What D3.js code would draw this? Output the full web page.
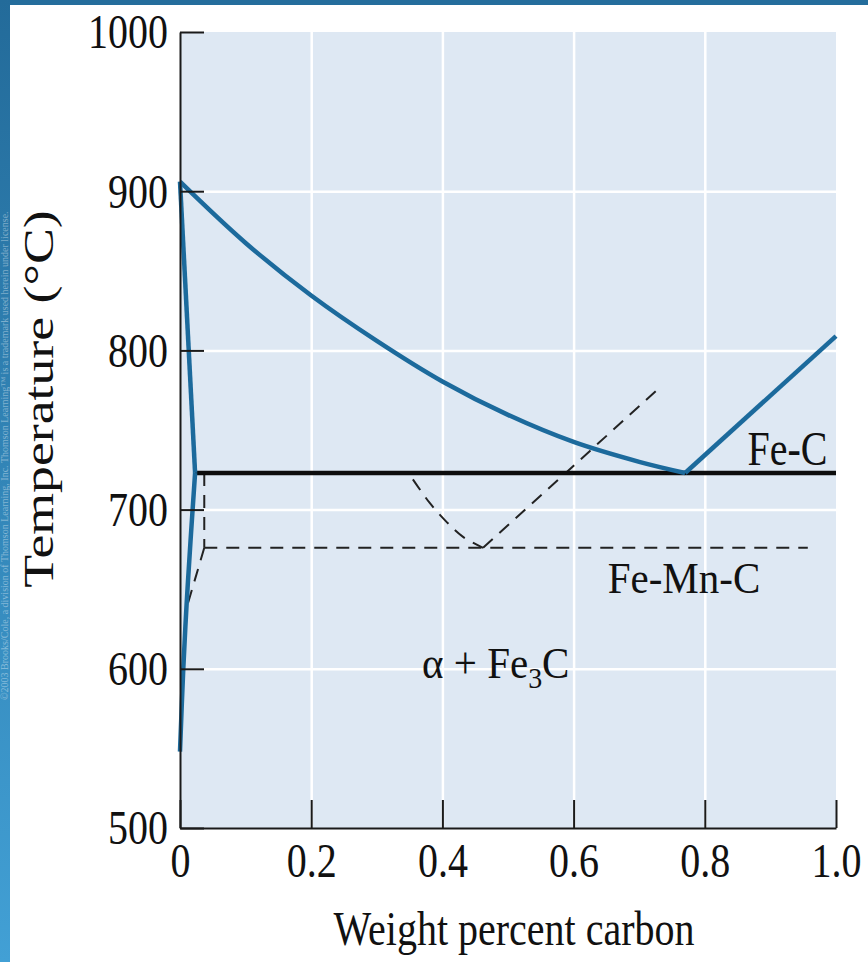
<!DOCTYPE html>
<html>
<head>
<meta charset="utf-8">
<script src="https://cdn.jsdelivr.net/npm/d3@7"></script>
<style>
  html, body { margin: 0; padding: 0; background: #fff; }
  svg { display: block; }
  text { font-family: "Liberation Serif", "Times New Roman", serif; fill: #111; }
</style>
</head>
<body>
<div id="chart"></div>
<script>
// tick values
var xTicks = [0, 0.2, 0.4, 0.6, 0.8, 1.0];
var yTicks = [500, 600, 700, 800, 900, 1000];

// Fe-C boundaries (wt% C, temperature C)
var feC_A3 = [[0, 906], [0.1, 867.5], [0.2, 834.5], [0.3, 806], [0.4, 780.5], [0.5, 759.5], [0.6, 742.5], [0.7, 730], [0.77, 723]];
var feC_Acm = [[0.77, 723], [1.0, 809]];
var feC_alphaTop = [[0, 906], [0.023, 723]];
var feC_alphaBottom = [[0.023, 723], [0.016, 680], [0.010, 640], [0.005, 600], [0, 548]];
var feC_eutectoid = [[0.023, 723], [1.0, 723]];

// Fe-Mn-C boundaries
var mn_A3 = [[0.355, 719], [0.381, 704], [0.407, 692], [0.431, 683], [0.462, 676]];
var mn_Acm = [[0.462, 676], [0.735, 778]];
var mn_eutectoid = [[0.037, 676], [0.957, 676]];
var mn_step = [[0.037, 723], [0.037, 676]];
var mn_alpha = [[0.037, 676], [0.012, 641]];

var W = 868, H = 962;
var margin = { top: 32, left: 180, right: 32, bottom: 134 };

var svg = d3.select("#chart").append("svg").attr("width", W).attr("height", H);

// page frame (blue bars on top and left)
var defs = svg.append("defs");
var grad = defs.append("linearGradient").attr("id", "sideGrad")
    .attr("x1", 0).attr("y1", 0).attr("x2", 0).attr("y2", 1);
grad.append("stop").attr("offset", "0%").attr("stop-color", "#236b9a");
grad.append("stop").attr("offset", "100%").attr("stop-color", "#42a0d5");
svg.append("rect").attr("x", 0).attr("y", 0).attr("width", W).attr("height", 5).attr("fill", "#246d9c");
svg.append("rect").attr("x", 0).attr("y", 0).attr("width", 10).attr("height", H).attr("fill", "url(#sideGrad)");
svg.append("text")
    .attr("transform", "translate(8,700) rotate(-90)")
    .style("font-size", "10px").style("fill", "rgba(255,255,255,0.4)")
    .text("\u00a92003 Brooks/Cole, a division of Thomson Learning, Inc.  Thomson Learning\u2122 is a trademark used herein under license.");

var x = d3.scaleLinear().domain([0, 1.0]).range([margin.left, W - margin.right]);
var y = d3.scaleLinear().domain([500, 1000]).range([H - margin.bottom, margin.top]);

// plot background
svg.append("rect")
    .attr("x", x(0)).attr("y", y(1000))
    .attr("width", x(1) - x(0)).attr("height", y(500) - y(1000))
    .attr("fill", "#dee8f3");

// white grid
svg.append("g")
    .attr("transform", "translate(0," + y(500) + ")")
    .call(d3.axisBottom(x).tickValues(xTicks.slice(1, -1)).tickSize(-(y(500) - y(1000))).tickFormat(""))
    .call(function (g) {
        g.select(".domain").remove();
        g.selectAll("line").attr("stroke", "#fff").attr("stroke-width", 2.5);
    });
svg.append("g")
    .attr("transform", "translate(" + x(0) + ",0)")
    .call(d3.axisLeft(y).tickValues(yTicks.slice(1, -1)).tickSize(-(x(1) - x(0))).tickFormat(""))
    .call(function (g) {
        g.select(".domain").remove();
        g.selectAll("line").attr("stroke", "#fff").attr("stroke-width", 2.5);
    });

var line = d3.line().x(function (d) { return x(d[0]); }).y(function (d) { return y(d[1]); });
var smooth = d3.line().curve(d3.curveCatmullRom.alpha(0.5)).x(function (d) { return x(d[0]); }).y(function (d) { return y(d[1]); });

function draw(data, gen, color, width, dash) {
    svg.append("path")
        .datum(data)
        .attr("d", gen)
        .attr("fill", "none")
        .attr("stroke", color)
        .attr("stroke-width", width)
        .attr("stroke-dasharray", dash || null);
}

// Fe-Mn-C (dashed)
var dash = "13,9";
draw(mn_eutectoid, line, "#222", 2, dash);
draw(mn_step, line, "#222", 2, dash);
draw(mn_alpha, line, "#222", 2, dash);
draw(mn_A3, smooth, "#222", 2, dash);
draw(mn_Acm, line, "#222", 2, dash);

// Fe-C
draw(feC_eutectoid, line, "#0d0d0d", 4.5);
draw(feC_A3, smooth, "#1c6a9c", 4.5);
draw(feC_Acm, line, "#1c6a9c", 4.5);
draw(feC_alphaTop, line, "#1c6a9c", 4.5);
draw(feC_alphaBottom, smooth, "#1c6a9c", 4.5);

// axes
svg.append("g")
    .attr("transform", "translate(" + x(0) + ",0)")
    .call(d3.axisLeft(y).tickValues(yTicks).tickSize(-24).tickSizeOuter(0).tickFormat(d3.format("d")))
    .call(function (g) {
        g.select(".domain").attr("stroke", "#1a1a1a").attr("stroke-width", 2);
        g.selectAll("line").attr("stroke", "#1a1a1a").attr("stroke-width", 2);
        g.selectAll("text")
            .attr("x", -12).attr("dy", "0.33em")
            .attr("transform", "scale(1,1.2)")
            .style("font-size", "40px").style("font-family", "Liberation Serif, serif").attr("fill", "#111");
    });
svg.append("g")
    .attr("transform", "translate(0," + y(500) + ")")
    .call(d3.axisBottom(x).tickValues(xTicks).tickSize(-28).tickSizeOuter(0)
        .tickFormat(function (d) { return d === 0 ? "0" : d3.format(".1f")(d); }))
    .call(function (g) {
        g.select(".domain").attr("stroke", "#1a1a1a").attr("stroke-width", 2);
        g.selectAll("line").attr("stroke", "#1a1a1a").attr("stroke-width", 2);
        g.selectAll("text")
            .attr("y", 0).attr("dy", 0)
            .attr("transform", "translate(0,49) scale(1,1.2)")
            .style("font-size", "40px").style("font-family", "Liberation Serif, serif").attr("fill", "#111");
    });

// axis titles
svg.append("text")
    .attr("transform", "translate(514,945) scale(1,1.2)")
    .attr("text-anchor", "middle")
    .style("font-size", "40px")
    .text("Weight percent carbon");
svg.append("text")
    .attr("transform", "translate(53,399) rotate(-90) scale(1.28,1)")
    .attr("text-anchor", "middle")
    .style("font-size", "42px")
    .text("Temperature (\u00b0C)");

// region labels
svg.append("text")
    .attr("transform", "translate(" + x(0.987) + "," + y(728) + ") scale(1,1.2)")
    .attr("text-anchor", "end")
    .style("font-size", "40px")
    .text("Fe-C");
svg.append("text")
    .attr("transform", "translate(" + x(0.652) + "," + y(647.5) + ") scale(1,1.08)")
    .style("font-size", "41px")
    .text("Fe-Mn-C");
var phase = svg.append("text")
    .attr("transform", "translate(" + x(0.369) + "," + y(594) + ") scale(1,1.08)")
    .style("font-size", "41px");
phase.append("tspan").text("\u03b1 + Fe");
phase.append("tspan").attr("dy", 9).style("font-size", "28px").text("3");
phase.append("tspan").attr("dy", -9).text("C");
</script>
</body>
</html>
